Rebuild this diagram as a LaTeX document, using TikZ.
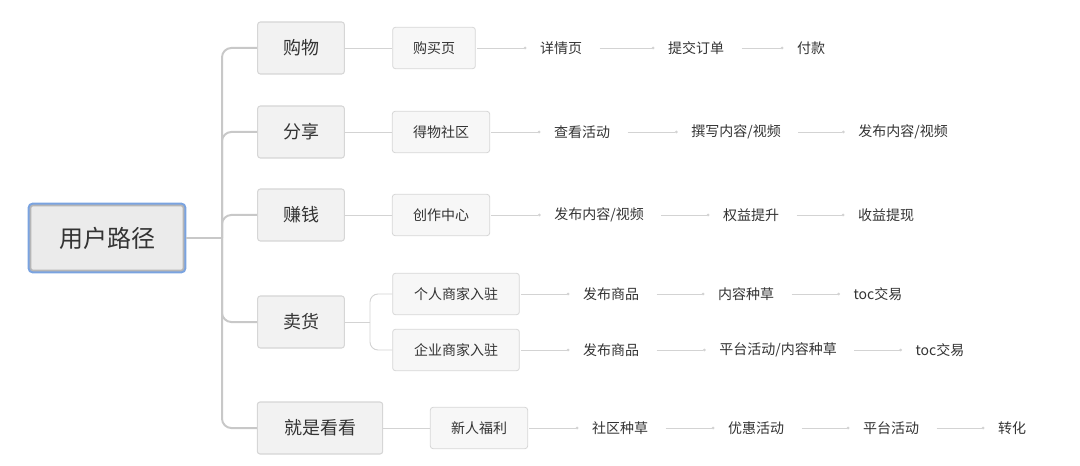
\documentclass[tikz,border=0pt]{standalone}
\usepackage{fontspec}
\setmainfont{Noto Sans CJK SC}
\usetikzlibrary{positioning}
\usetikzlibrary{arrows.meta}

\definecolor{boxfill}{HTML}{F2F2F2}
\definecolor{boxline}{HTML}{D6D6D6}
\definecolor{rootblue}{HTML}{7AA3E0}
\definecolor{linkgray}{HTML}{C8C8C8}
\definecolor{textgray}{HTML}{333333}

\tikzset{
    rootbox/.style = {draw = rootblue, line width = 2.2pt, fill = boxfill!97!black, rounded corners = 3pt,
        minimum width = 117pt, minimum height = 51pt, font = \fontsize{18}{21}\selectfont, text = textgray},
    topicbox/.style = {draw = boxline, line width = 0.8pt, fill = boxfill, rounded corners = 2pt,
        minimum height = 39pt, font = \fontsize{13.5}{16}\selectfont, text = textgray},
    subbox/.style = {draw = boxline, line width = 0.6pt, fill = boxfill!60, rounded corners = 2pt,
        minimum height = 31pt, font = \fontsize{10.5}{12}\selectfont, text = textgray},
    stepitem/.style = {font = \fontsize{10.5}{12}\selectfont, text = textgray, inner sep = 1pt},
    trunk/.style = {linkgray, line width = 1.5pt, rounded corners = 7pt},
    twig/.style = {linkgray!80, line width = 0.7pt, rounded corners = 6pt},
    flow/.style = {linkgray!80, line width = 0.6pt, -{Circle[length = 2pt]}, shorten < = 1pt, shorten > = 9pt}
}

\begin{document}
\begin{tikzpicture}[x = 0.75pt, y = -0.75pt]

    \useasboundingbox (0,0) rectangle (1080,466);

    % root and first level
    \node (R) at (107,238) [rootbox] {用户路径};
    \draw[boxline!85!black, line width = 1.2pt, rounded corners = 2pt]
        ([shift = {(2.2pt,2.2pt)}]R.south west) rectangle ([shift = {(-2.2pt,-2.2pt)}]R.north east);

    \node (T1) at (301,48)  [topicbox, minimum width = 65pt] {购物};
    \node (T2) at (301,132) [topicbox, minimum width = 65pt] {分享};
    \node (T3) at (301,215) [topicbox, minimum width = 65pt] {赚钱};
    \node (T4) at (301,322) [topicbox, minimum width = 65pt] {卖货};
    \node (T5) at (320,428) [topicbox, minimum width = 94pt] {就是看看};

    \coordinate (J) at (222,238);
    \draw[trunk] (R.east) -- (J);
    \foreach \t in {T1,T2,T3,T4,T5}
        \draw[trunk] (J) |- (\t.west);

    % second level
    \node (S1) at (434,48)  [subbox, minimum width = 62pt] {购买页};
    \node (S2) at (441,132) [subbox, minimum width = 73pt] {得物社区};
    \node (S3) at (441,215) [subbox, minimum width = 73pt] {创作中心};
    \node (S4) at (456,294) [subbox, minimum width = 95pt] {个人商家入驻};
    \node (S5) at (456,350) [subbox, minimum width = 95pt] {企业商家入驻};
    \node (S6) at (479,428) [subbox, minimum width = 73pt] {新人福利};

    \draw[twig] (T1.east) -- (S1.west);
    \draw[twig] (T2.east) -- (S2.west);
    \draw[twig] (T3.east) -- (S3.west);
    \draw[twig] (T5.east) -- (S6.west);
    \coordinate (K) at (370,322);
    \draw[twig] (T4.east) -- (K);
    \draw[twig] (K) |- (S4.west);
    \draw[twig] (K) |- (S5.west);

    % steps
    \node (A1) at (561,48) [stepitem] {详情页};
    \node (A2) at (696,48) [stepitem] {提交订单};
    \node (A3) at (811,48) [stepitem] {付款};

    \node (B1) at (582,132) [stepitem] {查看活动};
    \node (B2) at (736,132) [stepitem] {撰写内容/视频};
    \node (B3) at (903,132) [stepitem] {发布内容/视频};

    \node (C1) at (599,215) [stepitem] {发布内容/视频};
    \node (C2) at (751,215) [stepitem] {权益提升};
    \node (C3) at (886,215) [stepitem] {收益提现};

    \node (D1) at (611,294) [stepitem] {发布商品};
    \node (D2) at (746,294) [stepitem] {内容种草};
    \node (D3) at (878,294) [stepitem] {toc交易};

    \node (E1) at (611,350) [stepitem] {发布商品};
    \node (E2) at (778,350) [stepitem] {平台活动/内容种草};
    \node (E3) at (940,350) [stepitem] {toc交易};

    \node (F1) at (620,428) [stepitem] {社区种草};
    \node (F2) at (756,428) [stepitem] {优惠活动};
    \node (F3) at (891,428) [stepitem] {平台活动};
    \node (F4) at (1012,428) [stepitem] {转化};

    \draw[flow] (S1) -- (A1);  \draw[flow, shorten < = 12pt] (A1) -- (A2);  \draw[flow, shorten < = 12pt] (A2) -- (A3);
    \draw[flow] (S2) -- (B1);  \draw[flow, shorten < = 12pt] (B1) -- (B2);  \draw[flow, shorten < = 12pt] (B2) -- (B3);
    \draw[flow] (S3) -- (C1);  \draw[flow, shorten < = 12pt] (C1) -- (C2);  \draw[flow, shorten < = 12pt] (C2) -- (C3);
    \draw[flow] (S4) -- (D1);  \draw[flow, shorten < = 12pt] (D1) -- (D2);  \draw[flow, shorten < = 12pt] (D2) -- (D3);
    \draw[flow] (S5) -- (E1);  \draw[flow, shorten < = 12pt] (E1) -- (E2);  \draw[flow, shorten < = 12pt] (E2) -- (E3);
    \draw[flow] (S6) -- (F1);  \draw[flow, shorten < = 12pt] (F1) -- (F2);
    \draw[flow, shorten < = 12pt] (F2) -- (F3);  \draw[flow, shorten < = 12pt] (F3) -- (F4);

\end{tikzpicture}
\end{document}
